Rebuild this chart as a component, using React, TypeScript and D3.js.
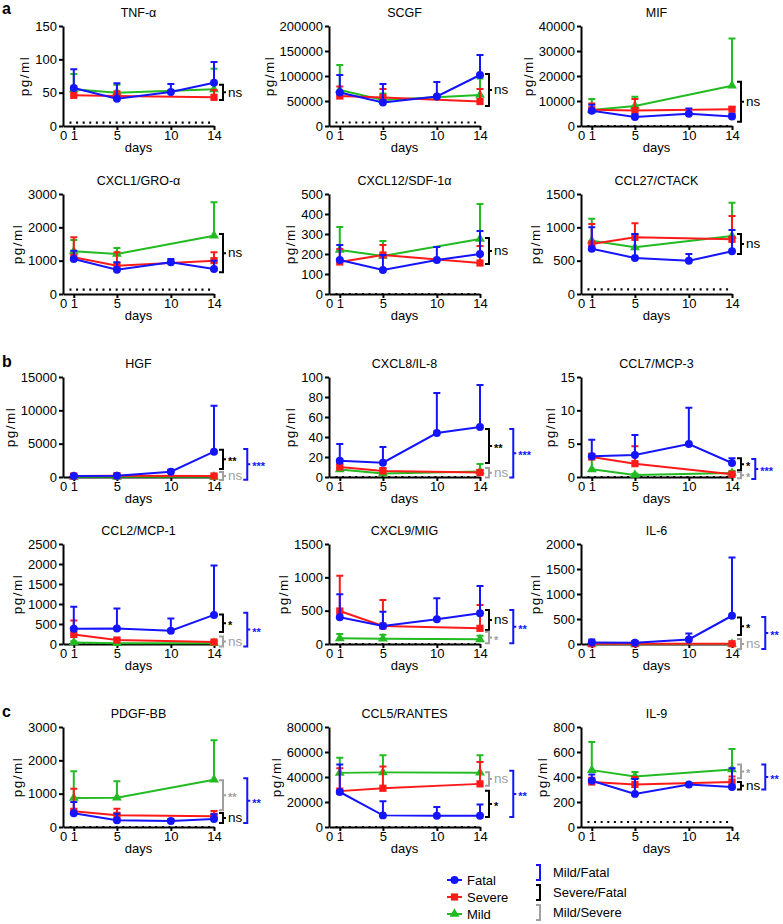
import React, { useEffect, useRef } from "react";
import * as d3 from "d3";

// panel info, left to right, top to bottom
const panelTitles = [
  "TNF-α", "SCGF", "MIF",
  "CXCL1/GRO-α", "CXCL12/SDF-1α", "CCL27/CTACK",
  "HGF", "CXCL8/IL-8", "CCL7/MCP-3",
  "CCL2/MCP-1", "CXCL9/MIG", "IL-6",
  "PDGF-BB", "CCL5/RANTES", "IL-9",
];
const yMax = [150, 200000, 40000, 3000, 500, 1500, 15000, 100, 15, 2500, 1500, 2000, 3000, 80000, 800];
const yStep = [50, 50000, 10000, 1000, 100, 500, 5000, 20, 5, 500, 500, 500, 1000, 20000, 200];
const lod = [5, 7000, 0, 130, 0, 70, 0, 0, 0, 0, 0, 0, 0, 0, 40];

const xTicks = [0, 1, 5, 10, 14];
const fatalDays = [1, 5, 10, 14];
const otherDays = [1, 5, 14];

// Fatal: days 1, 5, 10, 14
const fatalMean = [
  [57, 41, 51, 65], [67000, 47000, 59000, 102000], [6100, 3600, 4900, 3800],
  [1050, 730, 950, 750], [170, 120, 170, 200], [680, 540, 500, 640],
  [150, 200, 800, 3800], [16.3, 14.3, 44, 50], [3.1, 3.3, 4.95, 2.1],
  [380, 390, 330, 727], [400, 270, 370, 460], [30, 25, 90, 565],
  [410, 200, 180, 240], [28000, 9300, 9000, 9000], [370, 265, 340, 320],
];
const fatalUpper = [
  [85, 64, 63, 96], [102000, 84000, 88000, 142000], [8500, 4600, 7000, 4800],
  [1300, 950, 1050, 1000], [245, 195, 235, 315], [1000, 900, 600, 960],
  [300, 350, 1100, 10700], [33, 30, 84, 92], [5.6, 6.3, 10.4, 2.8],
  [930, 885, 640, 1960], [745, 485, 685, 870], [90, 50, 210, 1730],
  [750, 400, 230, 380], [50000, 20700, 16000, 18000], [420, 385, 350, 470],
];

// Severe: days 1, 5, 14
const severeMean = [
  [46, 45, 43], [60000, 57000, 49000], [6500, 6200, 6700],
  [1100, 850, 1000], [160, 195, 155], [750, 850, 820],
  [150, 200, 150], [10, 6, 4.5], [3.0, 2.0, 0.4],
  [240, 100, 50], [495, 270, 235], [5, 5, 5],
  [470, 350, 320], [28700, 31000, 34500], [360, 340, 360],
];
const severeUpper = [
  [59, 52, 54], [79000, 74000, 74000], [9000, 10800, 7500],
  [1700, 1250, 1250], [225, 245, 240], [1050, 1060, 1170],
  [250, 300, 250], [13, 9, 7], [3.5, 4.6, 0.5],
  [590, 130, 70], [1025, 660, 585], [10, 10, 10],
  [1150, 550, 480], [47000, 48500, 52000], [395, 400, 405],
];

// Mild: days 1, 5, 14
const mildMean = [
  [55, 50, 55], [72000, 52000, 62000], [6400, 8000, 16100],
  [1280, 1200, 1750], [220, 190, 275], [800, 700, 870],
  [30, 30, 30], [7.5, 3.5, 5.5], [1.15, 0.3, 0.6],
  [40, 20, 20], [85, 80, 70], [2, 2, 2],
  [870, 880, 1420], [43300, 43700, 43500], [455, 405, 460],
];
const mildUpper = [
  [78, 62, 86], [122000, 65000, 95000], [10800, 11700, 35000],
  [1620, 1380, 2750], [335, 265, 450], [1130, 900, 1370],
  [60, 60, 60], [9, 5, 13], [3, 0.5, 0.9],
  [70, 30, 30], [150, 140, 125], [4, 4, 4],
  [1670, 1370, 2600], [55500, 57400, 57500], [680, 440, 625],
];

// significance brackets: panel, comparison, top value, bottom value, label
const brackets: [number, string, number, number, string][] = [
  [0, "SF", 62, 39, "ns"],
  [1, "SF", 104000, 40000, "ns"],
  [2, "SF", 17700, 1700, "ns"],
  [3, "SF", 1800, 650, "ns"],
  [4, "SF", 280, 150, "ns"],
  [5, "SF", 900, 600, "ns"],
  [6, "SF", 4100, 1200, "**"], [6, "MS", 750, -450, "ns"], [6, "MF", 4200, -400, "***"],
  [7, "SF", 48, 14, "**"], [7, "MS", 9, -0.5, "ns"], [7, "MF", 48, -0.5, "***"],
  [8, "SF", 2.8, 1.0, "*"], [8, "MS", 0.75, -0.2, "*"], [8, "MF", 2.7, -0.3, "***"],
  [9, "SF", 740, 300, "*"], [9, "MS", 190, -60, "ns"], [9, "MF", 780, -60, "**"],
  [10, "SF", 510, 210, "ns"], [10, "MS", 185, 10, "*"], [10, "MF", 510, 10, "**"],
  [11, "SF", 530, 180, "*"], [11, "MS", 100, -100, "ns"], [11, "MF", 540, -100, "**"],
  [12, "MS", 1400, 500, "**"], [12, "SF", 420, 120, "ns"], [12, "MF", 1460, 120, "**"],
  [13, "MS", 43900, 33000, "ns"], [13, "SF", 29000, 8000, "*"], [13, "MF", 45000, 8000, "**"],
  [14, "MS", 500, 390, "*"], [14, "SF", 360, 300, "ns"], [14, "MF", 500, 300, "**"],
];

const sectionLetters = ["a", "b", "c"];
const sectionRows = [0, 2, 4];

const BLUE = "#1414ff";
const RED = "#ff1a1a";
const GREEN = "#22bb22";
const GREY = "#a0a0a0";
const FONT = "'Liberation Sans', Arial, Helvetica, sans-serif";

const compColor: Record<string, string> = { MF: BLUE, SF: "#000", MS: GREY };
const compText: Record<string, string> = { MF: "Mild/Fatal", SF: "Severe/Fatal", MS: "Mild/Severe" };

const colLeft = [63, 329, 581];
const rowTop = [26, 194, 377, 544, 727];
const plotW = 151;
const plotH = 100;

export default function App() {
  const ref = useRef<SVGSVGElement>(null);

  useEffect(() => {
    document.body.style.margin = "0";
    const svg = d3.select(ref.current);
    svg.selectAll("*").remove();
    svg.style("font-family", FONT);

    const series = [
      { name: "Mild", color: GREEN, days: otherDays, mean: mildMean, upper: mildUpper, symbol: d3.symbolTriangle, size: 42 },
      { name: "Severe", color: RED, days: otherDays, mean: severeMean, upper: severeUpper, symbol: d3.symbolSquare, size: 52 },
      { name: "Fatal", color: BLUE, days: fatalDays, mean: fatalMean, upper: fatalUpper, symbol: d3.symbolCircle, size: 50 },
    ];

    // section letters
    sectionLetters.forEach((l, i) => {
      svg.append("text")
        .attr("x", 2)
        .attr("y", i === 0 ? 14 : rowTop[sectionRows[i]] - 10)
        .attr("font-size", 16)
        .attr("font-weight", "bold")
        .text(l);
    });

    panelTitles.forEach((title, i) => {
      const col = i % 3;
      const row = Math.floor(i / 3);
      const x0 = colLeft[col];
      const y0 = rowTop[row];
      const x = d3.scaleLinear().domain([0, 14]).range([x0, x0 + plotW]);
      const y = d3.scaleLinear().domain([0, yMax[i]]).range([y0 + plotH, y0]);
      const g = svg.append("g");

      g.append("text")
        .attr("x", x0 + plotW / 2)
        .attr("y", y0 - 9)
        .attr("text-anchor", "middle")
        .attr("font-size", 12.5)
        .text(title);

      // y axis
      const yAxis = g.append("g")
        .attr("transform", `translate(${x0},0)`)
        .call(
          d3.axisLeft(y)
            .tickValues(d3.range(0, yMax[i] + yStep[i] / 2, yStep[i]))
            .tickSize(4)
            .tickSizeOuter(0)
            .tickPadding(2)
            .tickFormat(d3.format("d"))
        );
      yAxis.attr("font-family", FONT).attr("font-size", 13);
      yAxis.select(".domain").attr("stroke-width", 2);
      yAxis.selectAll(".tick line").attr("stroke-width", 2);
      yAxis.selectAll(".tick text").attr("fill", "#000");

      let maxW = 0;
      yAxis.selectAll<SVGTextElement, unknown>(".tick text").each(function () {
        maxW = Math.max(maxW, this.getComputedTextLength());
      });

      // x axis
      const xAxis = g.append("g")
        .attr("transform", `translate(0,${y0 + plotH})`)
        .call(d3.axisBottom(x).tickValues(xTicks).tickSize(4).tickSizeOuter(0).tickPadding(1));
      xAxis.attr("font-family", FONT).attr("font-size", 13);
      xAxis.select(".domain").attr("stroke-width", 2);
      xAxis.selectAll(".tick line").attr("stroke-width", 2);
      xAxis.selectAll(".tick text").attr("fill", "#000");
      xAxis.selectAll<SVGGElement, number>(".tick").filter((d) => d === 0).select("line").remove();

      g.append("text")
        .attr("x", x0 + plotW / 2)
        .attr("y", y0 + plotH + 26)
        .attr("text-anchor", "middle")
        .attr("font-size", 13)
        .text("days");

      g.append("text")
        .attr("transform", `translate(${x0 - maxW - 12},${y0 + plotH / 2}) rotate(-90)`)
        .attr("text-anchor", "middle")
        .attr("font-size", 13.5)
        .attr("letter-spacing", "1.5px")
        .text("pg/ml");

      // limit of detection
      g.append("line")
        .attr("x1", x(0.6))
        .attr("x2", x(14))
        .attr("y1", y(lod[i]))
        .attr("y2", y(lod[i]))
        .attr("stroke", "#000")
        .attr("stroke-width", 2.2)
        .attr("stroke-dasharray", "2,4.6");

      // series
      series.forEach((s) => {
        const pts = s.days.map((d, k) => ({ d, m: s.mean[i][k], u: s.upper[i][k] }));
        const sg = g.append("g");
        sg.selectAll(".err")
          .data(pts)
          .enter()
          .append("path")
          .attr("d", (p) => `M${x(p.d)},${y(p.m)}V${y(p.u)}M${x(p.d) - 3.5},${y(p.u)}H${x(p.d) + 3.5}`)
          .attr("stroke", s.color)
          .attr("stroke-width", 2)
          .attr("fill", "none");
        sg.append("path")
          .attr("d", d3.line<{ d: number; m: number }>().x((p) => x(p.d)).y((p) => y(p.m))(pts))
          .attr("stroke", s.color)
          .attr("stroke-width", 2)
          .attr("fill", "none");
        sg.selectAll(".mk")
          .data(pts)
          .enter()
          .append("path")
          .attr("transform", (p) => `translate(${x(p.d)},${y(p.m)})`)
          .attr("d", d3.symbol().type(s.symbol).size(s.size)())
          .attr("fill", s.color);
      });

      // brackets
      const mine = brackets.filter((b) => b[0] === i);
      const innerX = x(14) + 9;
      let innerW = 0;
      const drawBracket = (b: [number, string, number, number, string], bx: number) => {
        const color = compColor[b[1]];
        const yt = y(b[2]);
        const yb = y(b[3]);
        const ym = (yt + yb) / 2;
        g.append("path")
          .attr("d", `M${bx - 4},${yt}H${bx}V${yb}H${bx - 4}M${bx},${ym}H${bx + 3}`)
          .attr("stroke", color)
          .attr("stroke-width", 2)
          .attr("fill", "none");
        const star = b[4].startsWith("*");
        const t = g.append("text")
          .attr("x", bx + 5)
          .attr("y", ym + (star ? 6 : 4.3))
          .attr("fill", color)
          .attr("font-size", star ? 11 : 13.5)
          .attr("font-weight", star ? "bold" : "normal")
          .text(b[4]);
        return (t.node() as SVGTextElement).getComputedTextLength();
      };
      mine.filter((b) => b[1] !== "MF").forEach((b) => {
        innerW = Math.max(innerW, drawBracket(b, innerX));
      });
      mine.filter((b) => b[1] === "MF").forEach((b) => {
        drawBracket(b, innerX + 10 + innerW);
      });
    });

    // legend: groups
    const legend = svg.append("g");
    [series[2], series[1], series[0]].forEach((s, k) => {
      const ly = 880 + k * 17;
      legend.append("line")
        .attr("x1", 447).attr("x2", 462)
        .attr("y1", ly).attr("y2", ly)
        .attr("stroke", s.color).attr("stroke-width", 2);
      legend.append("path")
        .attr("transform", `translate(454.5,${ly})`)
        .attr("d", d3.symbol().type(s.symbol).size(s.size)())
        .attr("fill", s.color);
      legend.append("text")
        .attr("x", 467).attr("y", ly + 4.5)
        .attr("font-size", 13)
        .text(s.name);
    });

    // legend: comparisons
    ["MF", "SF", "MS"].forEach((c, k) => {
      const top = 865 + k * 20;
      legend.append("path")
        .attr("d", `M536,${top}H540V${top + 15}H536`)
        .attr("stroke", compColor[c])
        .attr("stroke-width", 2)
        .attr("fill", "none");
      legend.append("text")
        .attr("x", 553).attr("y", top + 12)
        .attr("font-size", 13)
        .text(compText[c]);
    });
  }, []);

  return <svg ref={ref} width={783} height={924} style={{ display: "block", background: "#fff" }} />;
}
